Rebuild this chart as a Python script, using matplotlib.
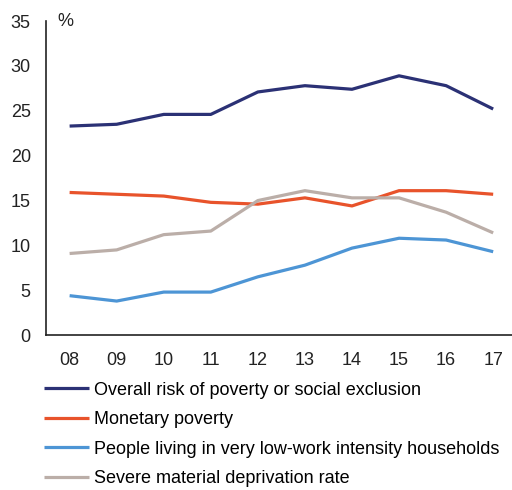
import matplotlib
matplotlib.use('Agg')
from matplotlib import pyplot as plt

plt.rcParams['font.family'] = ['Liberation Sans', 'DejaVu Sans']

years = ['08', '09', '10', '11', '12', '13', '14', '15', '16', '17']

overall = [23.3, 23.5, 24.6, 24.6, 27.1, 27.8, 27.4, 28.9, 27.8, 25.2]
monetary = [15.9, 15.7, 15.5, 14.8, 14.6, 15.3, 14.4, 16.1, 16.1, 15.7]
low_work = [4.4, 3.8, 4.8, 4.8, 6.5, 7.8, 9.7, 10.8, 10.6, 9.3]
deprivation = [9.1, 9.5, 11.2, 11.6, 15.0, 16.1, 15.3, 15.3, 13.7, 11.4]

labels = ['Overall risk of poverty or social exclusion',
          'Monetary poverty',
          'People living in very low-work intensity households',
          'Severe material deprivation rate']
colors = ['#2B3175', '#E8532B', '#4D95D5', '#BBAEA8']

fig = plt.figure(figsize=(5.12, 4.9), dpi=100)
ax = fig.add_axes([0.09, 0.316, 0.91, 0.641])

x = list(range(len(years)))
for vals, lab, c in zip([overall, monetary, low_work, deprivation], labels, colors):
    ax.plot(x, vals, color=c, lw=2.3, label=lab, solid_capstyle='butt')

ax.set_xlim(-0.5, 9.4)
ax.set_ylim(0, 35)
ax.set_yticks(range(0, 36, 5))
ax.set_xticks(x)
ax.set_xticklabels(years)
ax.tick_params(axis='both', length=0, labelsize=13, colors='#222222')
ax.tick_params(axis='x', pad=12)
ax.tick_params(axis='y', pad=11)
for s in ['top', 'right']:
    ax.spines[s].set_visible(False)
for s in ['left', 'bottom']:
    ax.spines[s].set_linewidth(1.2)
    ax.spines[s].set_color('#222222')

ax.text(0.025, 1.0, '%', transform=ax.transAxes, fontsize=13, color='#222222',
        va='center', ha='left')

fig.legend(loc='upper left', bbox_to_anchor=(0.085, 0.221), frameon=False,
           fontsize=13, handlelength=2.5, handletextpad=0.28, labelspacing=0.69,
           borderaxespad=0, borderpad=0)

fig.savefig('out.png', dpi=100)
